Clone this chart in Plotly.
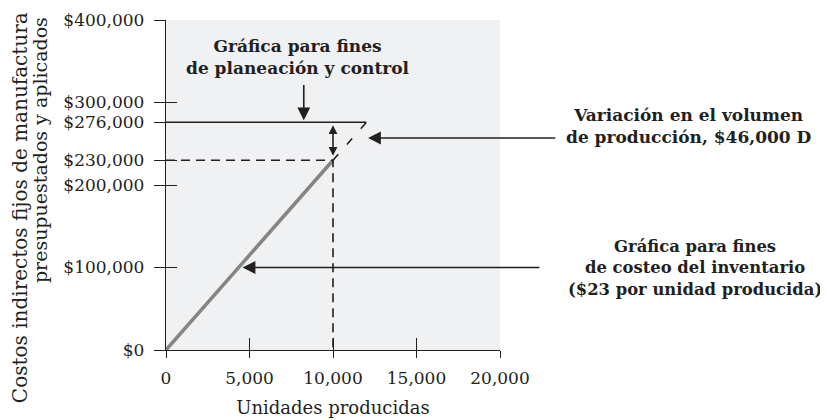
import plotly.graph_objects as go

# datos del gráfico
rate_per_unit = 23
actual_units = 10000
capacity_units = 12000
budgeted_fixed = 276000
applied_fixed = rate_per_unit * actual_units
volume_variance = budgeted_fixed - applied_fixed

x_ticks = [0, 5000, 10000, 15000, 20000]
x_tick_labels = ["0", "5,000", "10,000", "15,000", "20,000"]
y_ticks = [0, 100000, 200000, 230000, 276000, 300000, 400000]
y_tick_labels = ["$0", "$100,000", "$200,000", "$230,000", "$276,000", "$300,000", "$400,000"]

ink = "#231f20"
serif = "DejaVu Serif"

fig = go.Figure()

# costos aplicados (gris)
fig.add_trace(go.Scatter(x=[0, actual_units], y=[0, applied_fixed], mode="lines",
                         line=dict(color="#858585", width=3.5), hoverinfo="skip"))
# costos presupuestados
fig.add_trace(go.Scatter(x=[0, capacity_units], y=[budgeted_fixed, budgeted_fixed], mode="lines",
                         line=dict(color=ink, width=1.6), hoverinfo="skip"))
# continuación punteada de la recta aplicada
fig.add_trace(go.Scatter(x=[actual_units, capacity_units],
                         y=[applied_fixed, rate_per_unit * capacity_units], mode="lines",
                         line=dict(color=ink, width=1.6, dash="8px,13px"), hoverinfo="skip"))
# guías punteadas
fig.add_trace(go.Scatter(x=[0, actual_units, actual_units], y=[applied_fixed, applied_fixed, 0], mode="lines",
                         line=dict(color=ink, width=1.6, dash="9px,6px"), hoverinfo="skip"))
# traza invisible para los ejes con marcas interiores
fig.add_trace(go.Scatter(x=[0], y=[0], xaxis="x2", yaxis="y2", mode="markers",
                         marker=dict(opacity=0), hoverinfo="skip"))

axis_common = dict(showgrid=False, zeroline=False, ticklen=11, tickwidth=1.3, tickcolor=ink,
                   automargin=False)

# la página tiene 8px de margen propio: el lienzo se reduce y se desplaza para compensar
fig.update_layout(
    width=820, height=412,
    margin=dict(l=158, r=328, t=12, b=70),
    paper_bgcolor="white",
    plot_bgcolor="#f0f1f3",
    showlegend=False,
    font=dict(family=serif, color=ink, size=17),
    xaxis=dict(range=[0, 20000], tickvals=x_ticks, ticktext=x_tick_labels, ticks="outside",
               showline=True, linecolor=ink, linewidth=1.3, ticklabelstandoff=5,
               title=dict(text="Unidades producidas", font=dict(size=18), standoff=14),
               **dict(axis_common, ticklen=7)),
    yaxis=dict(range=[0, 400000], tickvals=y_ticks, ticktext=y_tick_labels, ticks="outside",
               showline=True, linecolor=ink, linewidth=1.3, ticklabelstandoff=6,
               **axis_common),
    xaxis2=dict(range=[0, 20000], overlaying="x", anchor="y2", tickvals=x_ticks, ticks="inside",
                showticklabels=False, showline=False, **dict(axis_common, ticklen=12)),
    yaxis2=dict(range=[0, 400000], overlaying="y", anchor="x2", tickvals=y_ticks, ticks="inside",
                showticklabels=False, showline=False, **axis_common),
)

arrow = dict(showarrow=True, text="", xref="x", yref="y", axref="x", ayref="y",
             arrowhead=2, arrowsize=1.6, arrowwidth=1.6, arrowcolor=ink)

# flecha: planeación y control
fig.add_annotation(x=8250, y=budgeted_fixed, ax=8250, ay=323000, standoff=2, **arrow)
# flecha doble: variación
fig.add_annotation(x=actual_units, y=budgeted_fixed, ax=actual_units, ay=applied_fixed,
                   arrowside="end+start", standoff=3, startstandoff=3,
                   **dict(arrow, arrowsize=1.1))
# flecha: variación en el volumen
fig.add_annotation(x=12100, y=257000, ax=23400, ay=257000, standoff=0, **arrow)
# flecha: costeo del inventario
fig.add_annotation(x=100000 / rate_per_unit, y=100000, ax=22450, ay=100000, standoff=4, **arrow)

label = dict(showarrow=False, xref="paper", yref="paper", xanchor="center", yanchor="middle",
             font=dict(family=serif, size=17, color=ink))

fig.add_annotation(x=0.395, y=0.888, text="<b>Gráfica para fines<br>de planeación y control</b>", **label)
fig.add_annotation(x=1.566, y=0.680,
                   text="<b>Variación en el volumen<br>de producción, $46,000 D</b>", **label)
fig.add_annotation(x=1.584, y=0.248,
                   text="<b>Gráfica para fines<br>de costeo del inventario<br>($23 por unidad producida)</b>",
                   **dict(label, font=dict(label["font"], size=16.4)))

# título del eje vertical (dos líneas)
ytitle = dict(showarrow=False, xref="paper", yref="paper", xanchor="center", yanchor="middle",
              textangle=-90, font=dict(family=serif, color=ink))
fig.add_annotation(x=-0.437, y=0.430, text="Costos indirectos fijos de manufactura",
                   **dict(ytitle, font=dict(ytitle["font"], size=20)))
fig.add_annotation(x=-0.377, y=0.606, text="presupuestados y aplicados",
                   **dict(ytitle, font=dict(ytitle["font"], size=19)))

fig.write_html("out.html")
